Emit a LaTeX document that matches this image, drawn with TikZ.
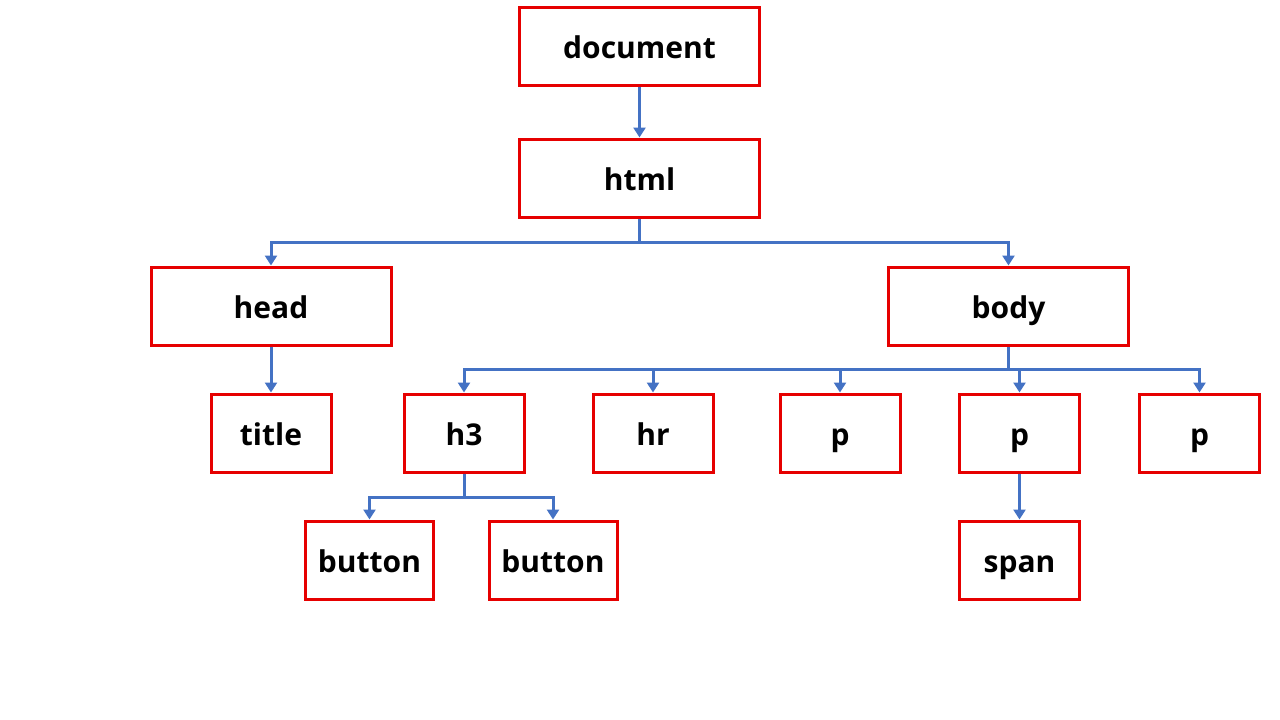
\documentclass[tikz,border=0pt]{standalone}
\usepackage{fontspec}
\setmainfont{Open Sans}
\usetikzlibrary{arrows.meta}
\definecolor{boxred}{RGB}{230,0,0}
\definecolor{linkblue}{RGB}{68,114,196}
\begin{document}
\begin{tikzpicture}[x=1pt,y=-1pt,
  box/.style={draw=boxred, line width=3pt, fill=white, inner sep=0pt,
    minimum height=78pt, text height=30pt, text depth=6pt,
    font=\fontsize{30}{34}\selectfont\bfseries},
  wide/.style={box, minimum width=240pt},
  narrow/.style={box, minimum width=120pt},
  btn/.style={box, minimum width=128pt},
  link/.style={draw=linkblue, line width=3pt,
    -{Triangle[width=12pt,length=10pt]}},
  plainlink/.style={draw=linkblue, line width=3pt}]
\useasboundingbox[fill=white] (0,0) rectangle (1280,720);

\node[wide] (document) at (639.5,46.5) {document};
\node[wide] (html) at (639.5,178) {html};
\node[wide] (head) at (271,306) {head};
\node[wide] (body) at (1008.5,306) {body};
\node[narrow] (title) at (271,433) {title};
\node[narrow] (h3) at (464,433) {h3};
\node[narrow] (hr) at (653,433) {hr};
\node[narrow] (p1) at (840,433) {p};
\node[narrow] (p2) at (1019.5,433) {p};
\node[narrow] (p3) at (1199.5,433) {p};
\node[btn] (button1) at (369.5,560) {button};
\node[btn] (button2) at (553,560) {button};
\node[narrow] (span) at (1019.5,560) {span};

\coordinate (hbus) at (639.5,242);
\coordinate (bbus) at (1008.5,369);
\coordinate (h3bus) at (464,497);

\draw[plainlink] (html.south) -- (hbus);
\draw[link] (hbus) -| (head.north);
\draw[link] (hbus) -| (body.north);

\draw[link] (document.south) -- (html.north);
\draw[link] (head.south) -- (title.north);

\draw[plainlink] (body.south) -- (bbus);
\draw[link] (bbus) -| (h3.north);
\draw[link] (bbus) -| (hr.north);
\draw[link] (bbus) -| (p1.north);
\draw[link] (bbus) -| (p2.north);
\draw[link] (bbus) -| (p3.north);

\draw[plainlink] (h3.south) -- (h3bus);
\draw[link] (h3bus) -| (button1.north);
\draw[link] (h3bus) -| (button2.north);

\draw[link] (p2.south) -- (span.north);
\end{tikzpicture}
\end{document}
